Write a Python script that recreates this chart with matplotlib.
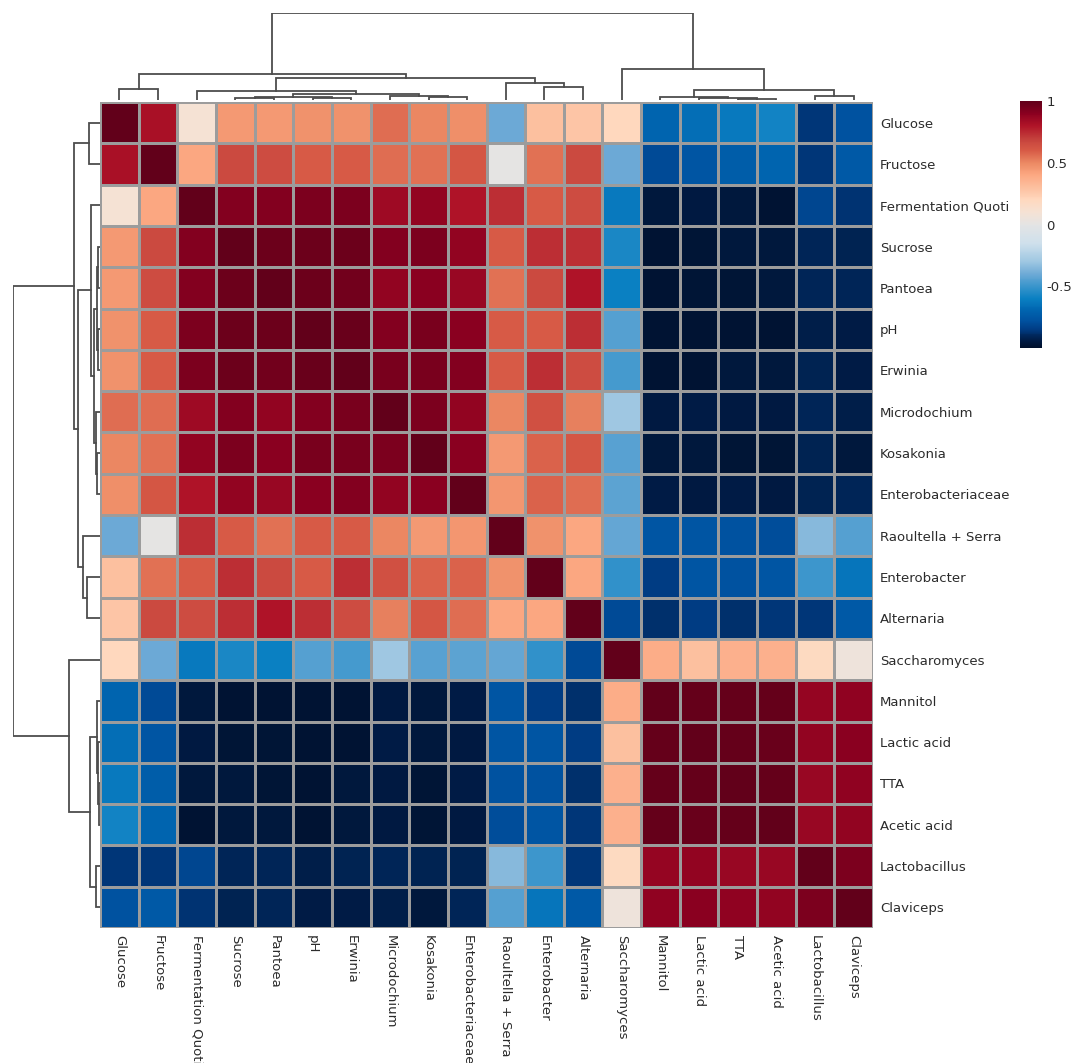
import numpy as np
import matplotlib
matplotlib.use("Agg")
import matplotlib.pyplot as plt
from matplotlib.colors import LinearSegmentedColormap

names = ["Glucose", "Fructose", "Fermentation Quoti", "Sucrose", "Pantoea", "pH",
         "Erwinia", "Microdochium", "Kosakonia", "Enterobacteriaceae",
         "Raoultella + Serra", "Enterobacter", "Alternaria", "Saccharomyces",
         "Mannitol", "Lactic acid", "TTA", "Acetic acid", "Lactobacillus", "Claviceps"]

# lower triangle of the correlation matrix (row i holds columns 0..i)
lower = [
    [1.00],
    [0.82, 1.00],
    [0.10, 0.40, 1.00],
    [0.45, 0.66, 0.92, 1.00],
    [0.45, 0.65, 0.92, 0.97, 1.00],
    [0.47, 0.60, 0.93, 0.97, 0.97, 1.00],
    [0.47, 0.60, 0.93, 0.97, 0.96, 0.98, 1.00],
    [0.56, 0.56, 0.85, 0.92, 0.88, 0.92, 0.94, 1.00],
    [0.50, 0.55, 0.88, 0.93, 0.90, 0.94, 0.94, 0.93, 1.00],
    [0.48, 0.61, 0.80, 0.88, 0.86, 0.90, 0.92, 0.88, 0.90, 1.00],
    [-0.40, 0.00, 0.74, 0.60, 0.55, 0.60, 0.60, 0.50, 0.45, 0.46, 1.00],
    [0.30, 0.55, 0.60, 0.74, 0.66, 0.60, 0.74, 0.64, 0.58, 0.58, 0.47, 1.00],
    [0.28, 0.66, 0.65, 0.74, 0.80, 0.74, 0.65, 0.52, 0.61, 0.56, 0.40, 0.40, 1.00],
    [0.20, -0.40, -0.62, -0.57, -0.60, -0.45, -0.48, -0.30, -0.44, -0.43, -0.42, -0.52, -0.80, 1.00],
    [-0.70, -0.80, -0.96, -0.98, -0.98, -0.98, -0.98, -0.95, -0.96, -0.94, -0.76, -0.85, -0.88, 0.38, 1.00],
    [-0.66, -0.76, -0.95, -0.97, -0.97, -0.98, -0.98, -0.94, -0.96, -0.95, -0.76, -0.76, -0.85, 0.30, 0.99, 1.00],
    [-0.62, -0.73, -0.96, -0.96, -0.97, -0.98, -0.96, -0.95, -0.97, -0.94, -0.78, -0.78, -0.88, 0.36, 0.99, 0.99, 1.00],
    [-0.58, -0.70, -0.98, -0.96, -0.96, -0.98, -0.96, -0.95, -0.97, -0.95, -0.79, -0.76, -0.86, 0.36, 0.99, 0.98, 0.99, 1.00],
    [-0.86, -0.86, -0.82, -0.91, -0.91, -0.93, -0.92, -0.91, -0.92, -0.92, -0.35, -0.50, -0.86, 0.18, 0.87, 0.88, 0.86, 0.86, 1.00],
    [-0.78, -0.75, -0.87, -0.92, -0.91, -0.94, -0.94, -0.93, -0.96, -0.91, -0.45, -0.64, -0.75, 0.06, 0.89, 0.90, 0.89, 0.88, 0.93, 1.00],
]

# hclust merges: (left, right, height); ids >= 20 refer to earlier merges
merges = [
    (16, 17, 4), (15, 20, 5), (14, 21, 8), (18, 19, 12), (22, 23, 30),
    (13, 24, 93), (3, 4, 5), (5, 6, 6), (26, 27, 8), (8, 9, 8),
    (7, 29, 12), (28, 30, 17), (2, 31, 28), (11, 12, 38), (10, 33, 50),
    (32, 34, 65), (0, 1, 33), (36, 35, 78), (37, 25, 260),
]

n = len(names)
corr = np.zeros((n, n))
for i, row in enumerate(lower):
    for j, v in enumerate(row):
        corr[i, j] = v
        corr[j, i] = v

cmap = LinearSegmentedColormap.from_list("rdbu_dark", [
    (0.000, "#00102c"), (0.025, "#001a42"), (0.050, "#00295f"), (0.075, "#003c84"),
    (0.110, "#0052a0"), (0.150, "#0064af"), (0.200, "#0a80c2"), (0.250, "#3c96cc"),
    (0.300, "#6eaad6"), (0.350, "#a0c8e2"), (0.425, "#cfe0ec"), (0.500, "#e4e4e4"),
    (0.550, "#f5e2d4"), (0.600, "#ffd8be"), (0.650, "#fcc0a0"), (0.700, "#fca882"),
    (0.750, "#ec8a64"), (0.800, "#d75a46"), (0.850, "#c4403c"), (0.900, "#b01428"),
    (0.950, "#8c0020"), (1.000, "#62001a"),
])

W, H = 1072, 1063
fig = plt.figure(figsize=(W / 100, H / 100), dpi=100)
fig.patch.set_facecolor("white")
font = dict(fontsize=9.5, color="#2b2b2b", family="DejaVu Sans")


def ax_px(x0, y0, x1, y1):
    return fig.add_axes([x0 / W, 1 - y1 / H, (x1 - x0) / W, (y1 - y0) / H])


# heatmap
ax = ax_px(100, 102, 873, 928)
mesh = ax.pcolormesh(np.arange(n + 1), np.arange(n + 1), corr, cmap=cmap,
                     vmin=-1, vmax=1, edgecolors="#9c9c9c", linewidth=0.75)
ax.set_xlim(0, n)
ax.set_ylim(n, 0)
for s in ax.spines.values():
    s.set_visible(False)
ax.yaxis.tick_right()
ax.set_yticks(np.arange(n) + 0.5)
ax.set_yticklabels(names, **font)
ax.set_xticks(np.arange(n) + 0.5)
ax.set_xticklabels(names, rotation=270, ha="center", va="top", **font)
ax.tick_params(length=0, pad=5)

# dendrograms
pos = {i: i + 0.5 for i in range(n)}
hgt = {i: 0.0 for i in range(n)}
segs = []
for k, (a, b, h) in enumerate(merges):
    segs.append((pos[a], hgt[a], pos[b], hgt[b], h))
    pos[n + k] = (pos[a] + pos[b]) / 2
    hgt[n + k] = h
top_h = merges[-1][2]

axt = ax_px(100, 13, 873, 100)
axl = ax_px(13, 102, 100, 928)
for xa, ha, xb, hb, h in segs:
    axt.plot([xa, xa, xb, xb], [ha, h, h, hb], color="#4d4d4d", lw=1.3,
             solid_joinstyle="miter")
    axl.plot([ha, h, h, hb], [xa, xa, xb, xb], color="#4d4d4d", lw=1.3,
             solid_joinstyle="miter")
axt.set_xlim(0, n)
axt.set_ylim(0, top_h)
axl.set_ylim(n, 0)
axl.set_xlim(top_h, 0)
for a in (axt, axl):
    a.axis("off")

# colour key
cax = ax_px(1020, 101, 1042, 348)
cb = fig.colorbar(mesh, cax=cax, ticks=[-0.5, 0, 0.5, 1])
cb.ax.set_yticklabels(["-0.5", "0", "0.5", "1"], **font)
cb.outline.set_visible(False)
cb.ax.tick_params(length=0, pad=3)

fig.savefig("out.png", dpi=100, facecolor="white")
